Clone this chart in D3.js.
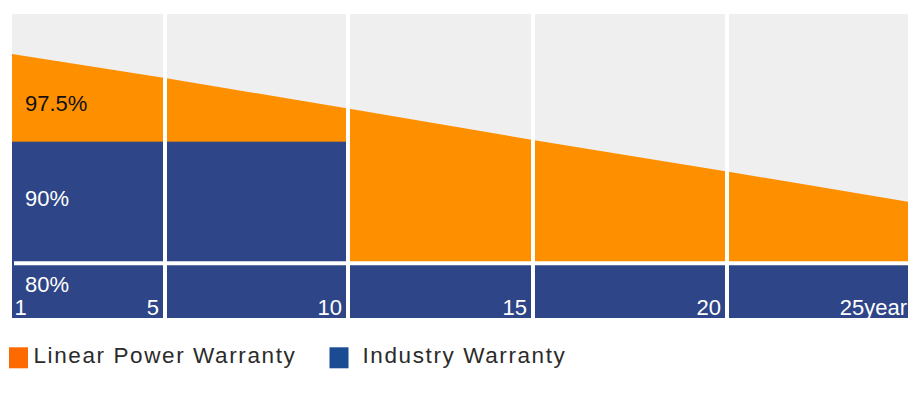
<!DOCTYPE html>
<html>
<head>
<meta charset="utf-8">
<script src="https://cdn.jsdelivr.net/npm/d3@7"></script>
<style>
  html, body { margin: 0; padding: 0; background: #ffffff; }
  svg { display: block; }
  text { font-family: "Liberation Sans", Arial, Helvetica, sans-serif; }
</style>
</head>
<body>
<div id="chart"></div>
<script>
// ---- data ----
const years = [1, 5, 10, 15, 20, 25];
const yearLabels = ["1", "5", "10", "15", "20", "25year"];
const linearPower = [97.21, 95.24, 92.73, 90.14, 87.55, 84.85];
const industryStart = [1, 10];
const industryEnd = [10, 25];
const industryValue = [90, 80];
const valueLabels = ["97.5%", "90%", "80%"];
const seriesNames = ["Linear Power Warranty", "Industry Warranty"];

// ---- layout ----
const W = 908, H = 395;
const yMin = 75.5, yMax = 100.5;
const colors = { bg: "#efefef", orange: "#fe9000", blue: "#2e4587",
                 legendOrange: "#ff6a00", legendBlue: "#1a4b93", text: "#2b2b2b" };

const svg = d3.select("#chart").append("svg")
  .attr("width", W).attr("height", H);

const x = d3.scaleLinear().domain(years).range([12, 165, 348, 533, 727, 924]);
const y = d3.scaleLinear().domain([yMin, yMax]).range([318, 14]);

// background
svg.append("rect")
  .attr("x", x(1)).attr("y", y(yMax))
  .attr("width", x(25) - x(1)).attr("height", y(yMin) - y(yMax))
  .attr("fill", colors.bg);

// linear power warranty area
const lpData = years.map((yr, i) => ({ year: yr, v: linearPower[i] }));
svg.append("path")
  .datum(lpData)
  .attr("fill", colors.orange)
  .attr("d", d3.area().x(d => x(d.year)).y0(y(yMin)).y1(d => y(d.v)));

// industry warranty steps
const indData = industryStart.map((s, i) => ({ s, e: industryEnd[i], v: industryValue[i] }));
svg.selectAll("rect.ind").data(indData).join("rect")
  .attr("class", "ind")
  .attr("x", d => x(d.s)).attr("width", d => x(d.e) - x(d.s))
  .attr("y", d => y(d.v)).attr("height", d => y(yMin) - y(d.v))
  .attr("fill", colors.blue);

// white grid lines
svg.selectAll("line.vg").data(years.slice(1, -1)).join("line")
  .attr("class", "vg")
  .attr("x1", d => x(d)).attr("x2", d => x(d))
  .attr("y1", y(yMax)).attr("y2", y(yMin))
  .attr("stroke", "#ffffff").attr("stroke-width", 4);
svg.append("line")
  .attr("x1", x(1) + 2).attr("x2", x(25))
  .attr("y1", y(80)).attr("y2", y(80))
  .attr("stroke", "#ffffff").attr("stroke-width", 4);

// year labels
const last = years.length - 1;
svg.selectAll("text.yr").data(years).join("text")
  .attr("class", "yr")
  .attr("x", (d, i) => i === 0 ? x(d) + 2.6 : (i === last ? W - 1 : x(d) - 6))
  .attr("y", 315)
  .attr("text-anchor", (d, i) => i === 0 ? "start" : "end")
  .attr("font-size", 22)
  .attr("fill", "#ffffff")
  .text((d, i) => yearLabels[i]);

// value labels
const vlY = [y(90) - 30.2, y(90) + 64.3, y(80) + 28.4];
const vlFill = ["#111111", "#ffffff", "#ffffff"];
svg.selectAll("text.vl").data(valueLabels).join("text")
  .attr("class", "vl")
  .attr("x", 25)
  .attr("y", (d, i) => vlY[i])
  .attr("font-size", 22)
  .attr("fill", (d, i) => vlFill[i])
  .text(d => d);

// legend
const legX = [9, 329.5];
const legTextX = [33.5, 362.5];
const legColors = [colors.legendOrange, colors.legendBlue];
const leg = svg.selectAll("g.leg").data(seriesNames).join("g").attr("class", "leg");
leg.append("rect")
  .attr("x", (d, i) => legX[i]).attr("y", 347.3)
  .attr("width", 19).attr("height", 21)
  .attr("fill", (d, i) => legColors[i]);
leg.append("text")
  .attr("x", (d, i) => legTextX[i]).attr("y", 363.3)
  .attr("font-size", 22.5)
  .attr("letter-spacing", "1.6px")
  .attr("fill", colors.text)
  .text(d => d);
</script>
</body>
</html>
